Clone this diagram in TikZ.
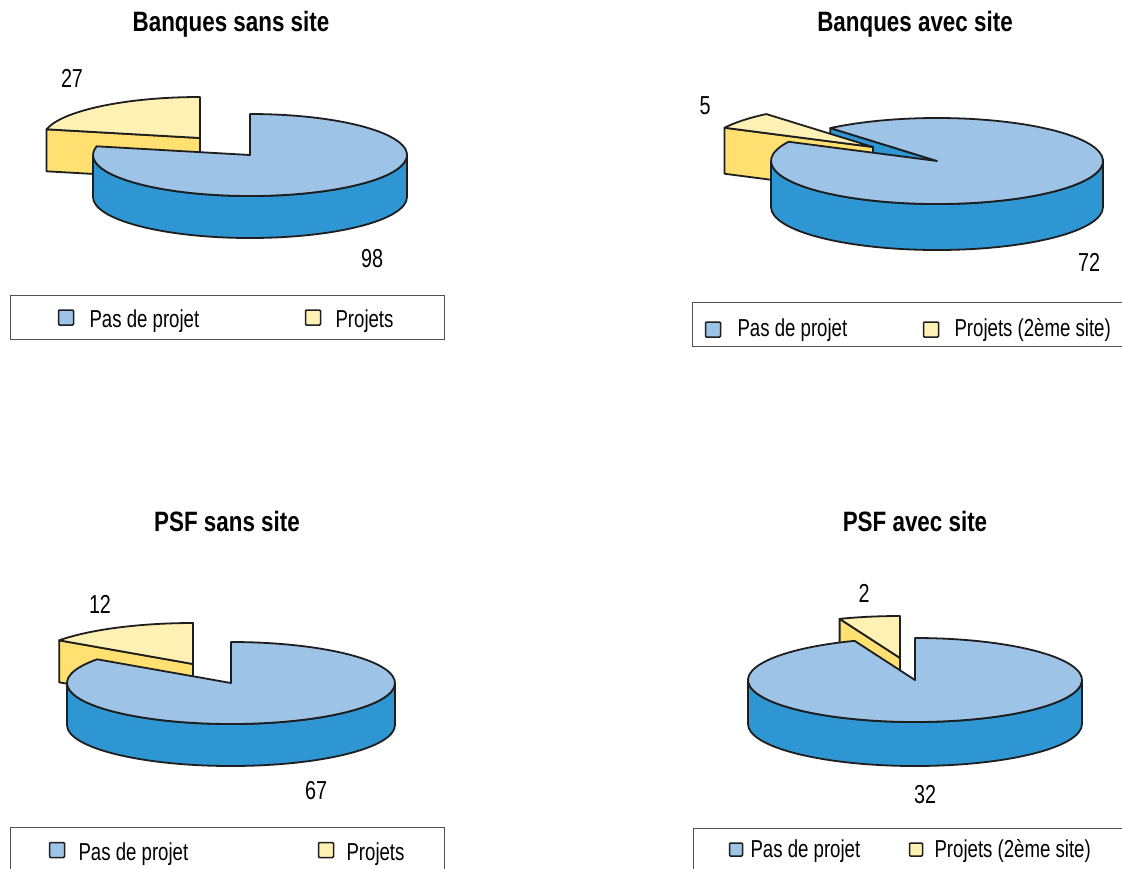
\documentclass[tikz,border=0pt]{standalone}
\usepackage{fontspec}
\setmainfont{Liberation Sans}
\newfontfamily\labfont[FakeStretch=0.76]{Liberation Sans}
\newfontfamily\ttlfont[FakeStretch=0.8]{Liberation Sans}
\definecolor{topblue}{RGB}{157,195,230}
\definecolor{sideblue}{RGB}{46,150,210}
\definecolor{topyellow}{RGB}{255,240,180}
\definecolor{sideyellow}{RGB}{255,224,112}
\definecolor{outline}{RGB}{30,30,30}
\definecolor{boxgray}{RGB}{80,80,80}
\newcommand\slicetop[4]{%
  \filldraw[pie, fill=#4] (#1) -- ++(#2:\rx pt and \ry pt) arc[start angle=#2, end angle=#3, x radius=\rx pt, y radius=\ry pt] -- cycle;}
\newcommand\slicerim[4]{%
  \filldraw[pie, fill=#4] (#1) ++(#2:\rx pt and \ry pt) arc[start angle=#2, end angle=#3, x radius=\rx pt, y radius=\ry pt] -- ++(0,-\hh) arc[start angle=#3, end angle=#2, x radius=\rx pt, y radius=\ry pt] -- cycle;}
\newcommand\sliceface[3]{%
  \filldraw[pie, fill=#3] (#1) -- ++(#2:\rx pt and \ry pt) -- ++(0,-\hh) -- ++(#2+180:\rx pt and \ry pt) -- cycle;}
\begin{document}
\begin{tikzpicture}[x=1pt,y=1pt,
  pie/.style={draw=outline, line width=1.8pt, line join=round},
  ttl/.style={font=\ttlfont\bfseries\fontsize{28}{30}\selectfont, anchor=base},
  num/.style={font=\labfont\fontsize{26}{28}\selectfont, anchor=base},
  legtxt/.style={font=\labfont\fontsize{24.5}{26}\selectfont, anchor=base west},
  legbox/.style={draw=boxgray, line width=1.3pt},
  legsq/.style={draw=outline, line width=1.5pt, minimum size=15pt, inner sep=0pt, rounded corners=1pt}]
\useasboundingbox (0,0) rectangle (1122,-868);
\clip (0,0) rectangle (1122,-868);
\fill[white] (0,0) rectangle (1122,-868);

% ---------- Chart 1: Banques sans site ----------
\def\rx{157}\def\ry{41}\def\hh{42}
\coordinate (c1) at (250,-155);
\coordinate (y1) at (200,-138);
\sliceface{y1}{167.76}{sideyellow}
\slicetop{y1}{90}{167.76}{topyellow}
\slicerim{c1}{180}{360}{sideblue}
\slicetop{c1}{167.76}{450}{topblue}
\node[ttl] (t1) at (231,-31) {Banques sans site};
\node[num] (n1a) at (72,-87) {27};
\node[num] (n1b) at (372,-267) {98};
\node[legbox, minimum width=434pt, minimum height=44pt, anchor=north west] (L1) at (10,-295) {};
\node[legsq, fill=topblue] (s1a) at (66,-317.5) {};
\node[legtxt] (l1a) at (86,-327) {Pas de projet};
\node[legsq, fill=topyellow] (s1b) at (313,-317.5) {};
\node[legtxt] (l1b) at (332,-327) {Projets};

% ---------- Chart 2: Banques avec site ----------
\def\rx{166}\def\ry{43}\def\hh{46}
\coordinate (c2) at (937,-161);
\coordinate (y2) at (873,-147);
\sliceface{c2}{130}{sideblue}
\sliceface{y2}{153.4}{sideyellow}
\slicetop{y2}{130}{153.4}{topyellow}
\slicerim{c2}{180}{360}{sideblue}
\slicetop{c2}{153.4}{490}{topblue}
\node[ttl] (t2) at (915,-31) {Banques avec site};
\node[num] (n2a) at (705,-114) {5};
\node[num] (n2b) at (1089,-271) {72};
\node[legbox, minimum width=450pt, minimum height=44pt, anchor=north west] (L2) at (692,-302) {};
\node[legsq, fill=topblue] (s2a) at (713,-329.5) {};
\node[legtxt] (l2a) at (734,-336) {Pas de projet};
\node[legsq, fill=topyellow] (s2b) at (931,-329.5) {};
\node[legtxt] (l2b) at (951,-336) {Projets (2ème site)};

% ---------- Chart 3: PSF sans site ----------
\def\rx{164}\def\ry{41}\def\hh{42}
\coordinate (c3) at (231,-683);
\coordinate (y3) at (193,-664);
\sliceface{y3}{144.7}{sideyellow}
\slicetop{y3}{90}{144.7}{topyellow}
\slicerim{c3}{180}{360}{sideblue}
\slicetop{c3}{144.7}{450}{topblue}
\node[ttl] (t3) at (227,-531) {PSF sans site};
\node[num] (n3a) at (100,-613) {12};
\node[num] (n3b) at (316,-799) {67};
\node[legbox, minimum width=434pt, minimum height=60pt, anchor=north west] (L3) at (10,-827) {};
\node[legsq, fill=topblue] (s3a) at (57,-850) {};
\node[legtxt] (l3a) at (75,-860) {Pas de projet};
\node[legsq, fill=topyellow] (s3b) at (326,-850) {};
\node[legtxt] (l3b) at (343,-860) {Projets};

% ---------- Chart 4: PSF avec site ----------
\def\rx{167}\def\ry{42}\def\hh{44}
\coordinate (c4) at (915,-680);
\coordinate (y4) at (900,-658);
\sliceface{y4}{111.2}{sideyellow}
\slicetop{y4}{90}{111.2}{topyellow}
\slicerim{c4}{180}{360}{sideblue}
\slicetop{c4}{111.2}{450}{topblue}
\node[ttl] (t4) at (915,-531) {PSF avec site};
\node[num] (n4a) at (864,-602) {2};
\node[num] (n4b) at (925,-803) {32};
\node[legbox, minimum width=450pt, minimum height=60pt, anchor=north west] (L4) at (693,-828) {};
\node[legsq, fill=topblue, minimum size=13pt] (s4a) at (736,-849.5) {};
\node[legtxt] (l4a) at (747,-857) {Pas de projet};
\node[legsq, fill=topyellow, minimum size=13pt] (s4b) at (916,-849.5) {};
\node[legtxt] (l4b) at (931,-857) {Projets (2ème site)};
\end{tikzpicture}
\end{document}
